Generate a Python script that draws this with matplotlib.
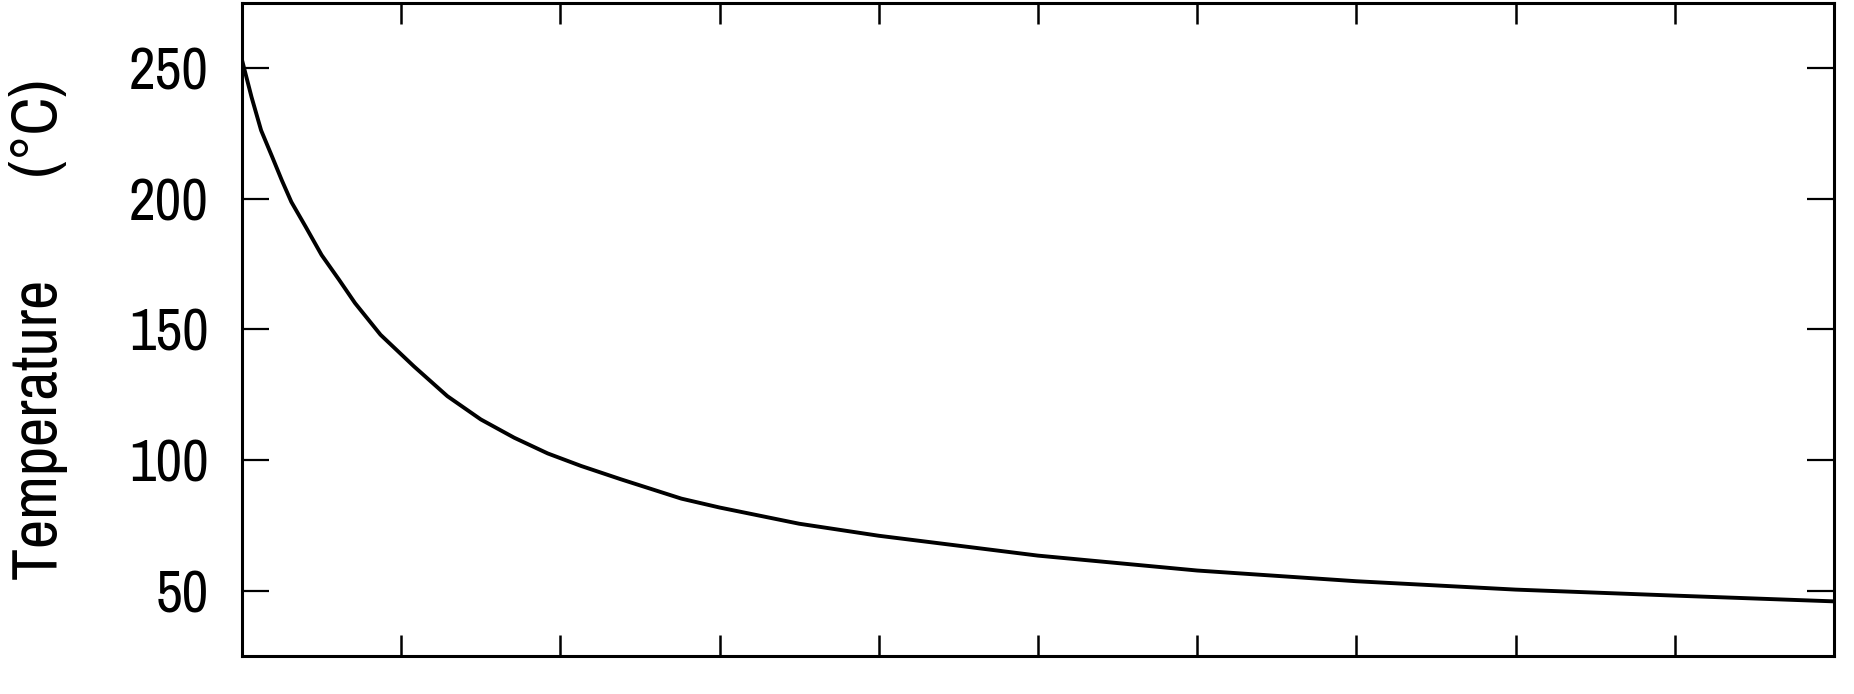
import matplotlib
matplotlib.use('Agg')
import matplotlib.pyplot as plt

# values
distance = [0, 0.06, 0.12, 0.19, 0.25, 0.31, 0.4, 0.5, 0.61, 0.71, 0.87,
            1.08, 1.29, 1.5, 1.71, 1.92, 2.13, 2.38, 2.76, 3, 3.5,
            4, 5, 6, 7, 8, 9, 10]
temperature = [253.0, 238.8, 226.1, 215.9, 207.0, 198.7, 189.2, 178.4, 168.9,
               160.0, 147.9, 135.8, 124.4, 115.5, 108.5, 102.5, 97.7, 92.6,
               85.2, 81.8, 75.6, 71.0, 63.4, 57.7, 53.6, 50.4, 48.1, 45.9]
y_ticks = [50, 100, 150, 200, 250]
x_ticks = list(range(0, 11))

plt.rcParams['font.family'] = ['Archivo Narrow', 'Roboto Condensed', 'DejaVu Sans']

fig = plt.figure(figsize=(18.54, 6.94), dpi=100)
ax = fig.add_axes([242 / 1854, 38 / 694, 1592 / 1854, 653.5 / 694])

ax.plot(distance, temperature, color='black', linewidth=2.8)

ax.set_xlim(0, 10)
ax.set_ylim(25, 275)
ax.set_xticks(x_ticks)
ax.set_yticks(y_ticks)
ax.set_xticklabels([])

ax.tick_params(axis='x', direction='in', top=True, bottom=True, length=15, width=1.8)
ax.tick_params(axis='y', direction='in', left=True, right=True, length=19.5, width=1.6,
               labelsize=42, pad=24)

for spine in ax.spines.values():
    spine.set_linewidth(2.2)

ax.set_ylabel('Temperature       (°C)', fontsize=46, labelpad=44)

fig.savefig('out.png', dpi=100)
